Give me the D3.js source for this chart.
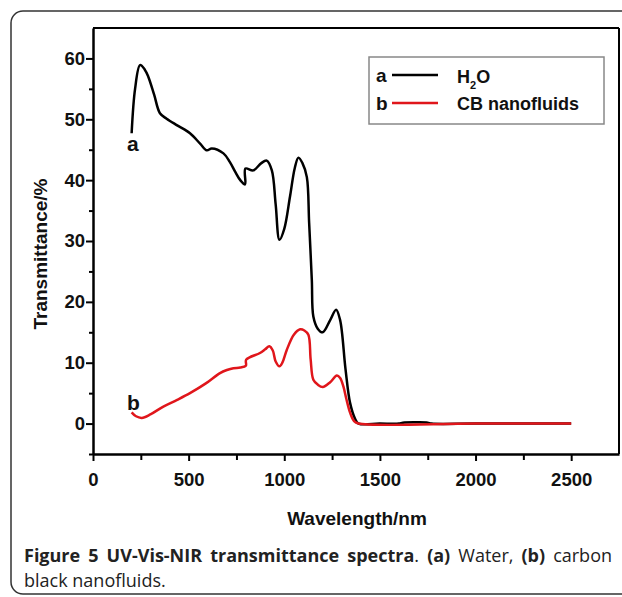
<!DOCTYPE html>
<html>
<head>
<meta charset="utf-8">
<script src="https://cdn.jsdelivr.net/npm/d3@7"></script>
<style>
  body { margin: 0; background: #fff; }
  svg { display: block; }
</style>
</head>
<body>
<svg width="622" height="597"></svg>
<script>
// curve a: water
const waveA = [202, 220, 246, 270, 289, 320, 350, 385, 440, 507, 560, 595, 621, 682, 715, 743, 770, 795, 797,
  838, 880, 908, 935, 955, 975, 1000, 1030, 1055, 1074, 1095, 1118, 1130, 1144, 1152, 1175, 1201, 1240, 1271,
  1292, 1320, 1344, 1370, 1388, 1500, 1600, 1620, 1700, 1750, 1770, 2000, 2500];
const transA = [47.7, 55, 58.9, 58.2, 57, 54, 51, 50.1, 49, 47.7, 46, 44.9, 45.2, 44.4, 43, 41.4, 40, 39.3, 41.9,
  41.6, 42.8, 43.2, 41.6, 36, 30.2, 32, 37.3, 42, 43.7, 42.8, 40.5, 33, 23.6, 17.6, 15.6, 15.0, 17, 18.7,
  17, 9, 3.4, 0.8, 0, 0, 0, 0.15, 0.2, 0.15, 0, 0, 0];

// curve b: CB nanofluids
const waveB = [202, 225, 255, 300, 368, 440, 507, 590, 664, 700, 734, 770, 799, 801, 873, 900, 922, 940, 955, 975,
  990, 1013, 1050, 1083, 1105, 1126, 1138, 1152, 1175, 1201, 1240, 1275, 1292, 1309, 1325, 1344, 1365, 1388, 2000, 2500];
const transB = [1.85, 1.2, 0.93, 1.5, 2.8, 3.9, 5.0, 6.6, 8.3, 8.8, 9.1, 9.2, 9.5, 10.5, 11.6, 12.2, 12.7, 12.0, 10.2, 9.4,
  10.0, 12.1, 14.6, 15.5, 15.3, 14.6, 10.5, 7.2, 6.4, 6.0, 6.8, 7.9, 7.5, 6.1, 4, 1.8, 0.4, 0, 0, 0];

const xMajor = [0, 500, 1000, 1500, 2000, 2500];
const xMinor = [250, 750, 1250, 1750, 2250];
const yMajor = [0, 10, 20, 30, 40, 50, 60];
const yMinor = [-5, 5, 15, 25, 35, 45, 55];

const svg = d3.select('svg');
const chartFont = '"Liberation Sans", Arial, sans-serif';

// outer frame of the figure panel
svg.append('rect')
  .attr('x', 11).attr('y', 11)
  .attr('width', 640).attr('height', 583)
  .attr('rx', 12)
  .attr('fill', 'none')
  .attr('stroke', '#333')
  .attr('stroke-width', 1.5);

const x = d3.scaleLinear().domain([0, 2750]).range([93, 619]);
const y = d3.scaleLinear().domain([-5, 65]).range([454, 28]);

// top and right frame lines
svg.append('line')
  .attr('x1', x(0)).attr('x2', x(2750)).attr('y1', y(65)).attr('y2', y(65))
  .attr('stroke', '#000').attr('stroke-width', 2);
svg.append('line')
  .attr('x1', x(2750)).attr('x2', x(2750)).attr('y1', y(65)).attr('y2', y(-5))
  .attr('stroke', '#000').attr('stroke-width', 2);

// x axis
const gx = svg.append('g').attr('transform', `translate(0,${y(-5)})`);
gx.call(d3.axisBottom(x).tickValues(xMajor).tickFormat(d3.format('d'))
  .tickSize(7).tickPadding(12).tickSizeOuter(0));
gx.append('g').call(d3.axisBottom(x).tickValues(xMinor).tickSize(6).tickFormat('').tickSizeOuter(0))
  .select('.domain').remove();

// y axis
const gy = svg.append('g').attr('transform', `translate(${x(0)},0)`);
gy.call(d3.axisLeft(y).tickValues(yMajor).tickFormat(d3.format('d'))
  .tickSize(7).tickPadding(1).tickSizeOuter(0));
gy.append('g').call(d3.axisLeft(y).tickValues(yMinor).tickSize(4).tickFormat('').tickSizeOuter(0))
  .select('.domain').remove();

svg.selectAll('.domain').attr('stroke', '#000').attr('stroke-width', 2.5);
svg.selectAll('.tick line').attr('stroke', '#000').attr('stroke-width', 2);
svg.selectAll('.tick text')
  .attr('font-family', chartFont)
  .attr('font-weight', 'bold')
  .attr('font-size', 18.5)
  .attr('fill', '#111');

// axis titles
svg.append('text')
  .attr('x', 357).attr('y', 525)
  .attr('text-anchor', 'middle')
  .attr('font-family', chartFont).attr('font-weight', 'bold').attr('font-size', 19)
  .attr('fill', '#111')
  .text('Wavelength/nm');

svg.append('text')
  .attr('transform', 'translate(47,254) rotate(-90)')
  .attr('text-anchor', 'middle')
  .attr('font-family', chartFont).attr('font-weight', 'bold').attr('font-size', 19)
  .attr('fill', '#111')
  .text('Transmittance/%');

// the curves
const line = d3.line()
  .x(d => x(d[0]))
  .y(d => y(d[1]))
  .curve(d3.curveCatmullRom.alpha(0.5));

svg.append('path')
  .datum(d3.zip(waveA, transA))
  .attr('d', line)
  .attr('fill', 'none')
  .attr('stroke', '#000')
  .attr('stroke-width', 2.5)
  .attr('stroke-linejoin', 'round');

svg.append('path')
  .datum(d3.zip(waveB, transB))
  .attr('d', line)
  .attr('fill', 'none')
  .attr('stroke', '#e0161b')
  .attr('stroke-width', 2.5)
  .attr('stroke-linejoin', 'round');

// curve labels
svg.append('text').attr('x', 127).attr('y', 151)
  .attr('font-family', chartFont).attr('font-weight', 'bold').attr('font-size', 21)
  .attr('fill', '#111').text('a');
svg.append('text').attr('x', 127).attr('y', 410)
  .attr('font-family', chartFont).attr('font-weight', 'bold').attr('font-size', 21)
  .attr('fill', '#111').text('b');

// legend
const legend = svg.append('g');
legend.append('rect')
  .attr('x', 369).attr('y', 57).attr('width', 235).attr('height', 67)
  .attr('fill', '#fff').attr('stroke', '#888').attr('stroke-width', 1.5);

const legendItems = [
  { key: 'a', color: '#000', yy: 75 },
  { key: 'b', color: '#e0161b', yy: 103 }
];
legendItems.forEach(it => {
  legend.append('text').attr('x', 376).attr('y', it.yy + 7)
    .attr('font-family', chartFont).attr('font-weight', 'bold').attr('font-size', 19)
    .attr('fill', '#111').text(it.key);
  legend.append('line')
    .attr('x1', 392).attr('x2', 438).attr('y1', it.yy).attr('y2', it.yy)
    .attr('stroke', it.color).attr('stroke-width', 2.5);
});

const h2o = legend.append('text').attr('x', 457).attr('y', 83)
  .attr('font-family', chartFont).attr('font-weight', 'bold').attr('font-size', 18)
  .attr('fill', '#111');
h2o.append('tspan').text('H');
h2o.append('tspan').attr('font-size', 11).attr('dy', 6).text('2');
h2o.append('tspan').attr('dy', -6).text('O');

legend.append('text').attr('x', 457).attr('y', 110)
  .attr('font-family', chartFont).attr('font-weight', 'bold').attr('font-size', 18)
  .attr('fill', '#111').text('CB nanofluids');

// caption
const capFont = '"Open Sans", "Noto Sans", sans-serif';
const cap1 = svg.append('text').attr('x', 24).attr('y', 562)
  .attr('font-family', capFont).attr('font-size', 18).attr('fill', '#222');
const parts1 = [
  ['Figure 5 UV-Vis-NIR transmittance spectra', 'bold'],
  ['. ', 'normal'],
  ['(a)', 'bold'],
  [' Water, ', 'normal'],
  ['(b)', 'bold'],
  [' carbon', 'normal']
];
parts1.forEach(p => cap1.append('tspan').attr('font-weight', p[1]).text(p[0]));
// justify the first line to the frame width
const natural = cap1.node().getComputedTextLength();
const spaces = parts1.map(p => p[0]).join('').split(' ').length - 1;
cap1.attr('word-spacing', Math.max(0, (612 - 24 - natural) / spaces));

svg.append('text').attr('x', 24).attr('y', 587)
  .attr('font-family', capFont).attr('font-size', 18).attr('fill', '#222')
  .text('black nanofluids.');
</script>
</body>
</html>
